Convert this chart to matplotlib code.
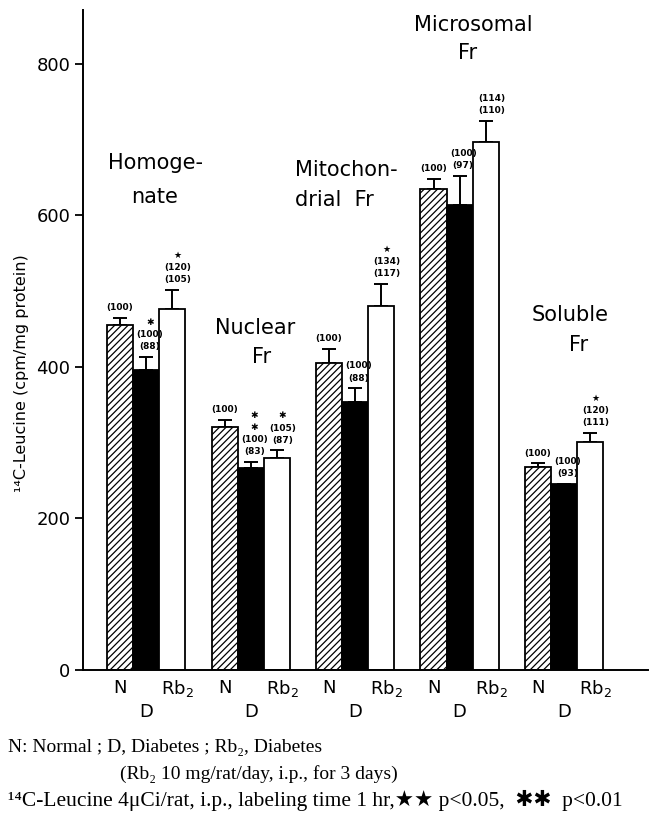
import matplotlib
matplotlib.use("Agg")
import matplotlib.pyplot as plt
import numpy as np

# ---- data ----
groups = ["Homogenate", "Nuclear Fr", "Mitochondrial Fr", "Microsomal Fr", "Soluble Fr"]
normal = [455, 321, 405, 635, 268]
normal_err = [10, 9, 19, 13, 5]
diabetes = [396, 267, 354, 614, 246]
diabetes_err = [17, 8, 18, 38, 0]
rb2 = [477, 280, 481, 697, 301]
rb2_err = [25, 10, 29, 28, 12]

normal_labels = ["(100)", "(100)", "(100)", "(100)", "(100)"]
diabetes_labels = ["\u2731\n(100)\n(88)", "\u2731\n\u2731\n(100)\n(83)", "(100)\n(88)",
                   "(100)\n(97)", "(100)\n(93)"]
rb2_labels = ["\u2605\n(120)\n(105)", "\u2731\n(105)\n(87)", "\u2605\n(134)\n(117)",
              "(114)\n(110)", "\u2605\n(120)\n(111)"]

yticks = [0, 200, 400, 600, 800]
W, H = 652, 825

plt.rcParams['font.family'] = ['DejaVu Sans']
plt.rcParams['hatch.linewidth'] = 0.9

fig = plt.figure(figsize=(W / 100, H / 100), dpi=100)
ax = fig.add_axes([83 / W, 1 - 670 / H, (648 - 83) / W, (670 - 10) / H])

n = len(groups)
base = np.arange(n) * 4.0
xn, xd, xr = base, base + 1, base + 2

ax.bar(xn, normal, width=1.0, color="white", edgecolor="black", hatch="/////",
       linewidth=1.3, zorder=2)
ax.bar(xd, diabetes, width=1.0, color="black", edgecolor="black", linewidth=1.3, zorder=2)
ax.bar(xr, rb2, width=1.0, color="white", edgecolor="black", linewidth=1.3, zorder=2)

for xs, vals, errs in [(xn, normal, normal_err), (xd, diabetes, diabetes_err), (xr, rb2, rb2_err)]:
    ax.errorbar(xs, vals, yerr=[np.zeros(n), errs], fmt="none", ecolor="black",
                elinewidth=1.4, capsize=5, capthick=1.4, zorder=1.5)

lab_kw = dict(textcoords="offset points", ha="center", va="bottom", fontsize=6.5,
              linespacing=1.45, fontweight="bold", zorder=5)
for i in range(n):
    ax.annotate(normal_labels[i], (xn[i], normal[i] + normal_err[i]), xytext=(0, 4), **lab_kw)
    ax.annotate(diabetes_labels[i], (xd[i], diabetes[i] + diabetes_err[i]), xytext=(2.5, 4), **lab_kw)
    ax.annotate(rb2_labels[i], (xr[i], rb2[i] + rb2_err[i]), xytext=(4, 4), **lab_kw)

ax.set_xlim(-1.42, 20.21)
ax.set_ylim(0, 871)
ax.set_yticks(yticks)
ax.set_yticklabels([str(v) for v in yticks], fontsize=13)
ax.tick_params(axis="y", direction="out", length=6, width=1.3, pad=3)
ax.tick_params(axis="x", length=0, labelbottom=False)
for s in ["top", "right"]:
    ax.spines[s].set_visible(False)
ax.spines["left"].set_linewidth(1.4)
ax.spines["bottom"].set_linewidth(1.4)

# category labels under the bars
for i in range(n):
    ax.annotate("N", (xn[i], 0), xycoords="data", xytext=(0, -13), textcoords="offset points",
                ha="center", va="center", fontsize=13)
    ax.annotate("Rb$_2$", (xr[i] + 0.2, 0), xycoords="data", xytext=(0, -13),
                textcoords="offset points", ha="center", va="center", fontsize=13)
    ax.annotate("D", (xd[i], 0), xycoords="data", xytext=(0, -30), textcoords="offset points",
                ha="center", va="center", fontsize=13)

ax.set_ylabel("\u00b9\u2074C-Leucine (cpm/mg protein)", fontsize=11.5)
ax.yaxis.set_label_coords(-0.095, 0.45)

# group titles
def ftext(x, y, s, **kw):
    fig.text(x / W, 1 - y / H, s, va="center", fontsize=15, **kw)

ftext(156, 163, "Homoge-", ha="center")
ftext(155, 197, "nate", ha="center")
ftext(255, 328, "Nuclear", ha="center")
ftext(262, 357, "Fr", ha="center")
ftext(295, 170, "Mitochon-", ha="left")
ftext(295, 200, "drial  Fr", ha="left")
ftext(473, 25, "Microsomal", ha="center")
ftext(468, 53, "Fr", ha="center")
ftext(570, 315, "Soluble", ha="center")
ftext(579, 345, "Fr", ha="center")

# footer
serif = ["Liberation Serif", "DejaVu Serif", "DejaVu Sans"]
fig.text(8 / W, 1 - 747 / H, "N: Normal ; D, Diabetes ; Rb\u2082, Diabetes",
         family=serif, fontsize=14, va="center", ha="left")
fig.text(120 / W, 1 - 774 / H, "(Rb\u2082 10 mg/rat/day, i.p., for 3 days)",
         family=serif, fontsize=14, va="center", ha="left")
fig.text(8 / W, 1 - 800 / H,
         "\u00b9\u2074C-Leucine 4\u03bcCi/rat, i.p., labeling time 1 hr,\u2605\u2605 p<0.05,  \u2731\u2731  p<0.01",
         family=serif, fontsize=15.5, va="center", ha="left")

fig.savefig("out.png", dpi=100)
